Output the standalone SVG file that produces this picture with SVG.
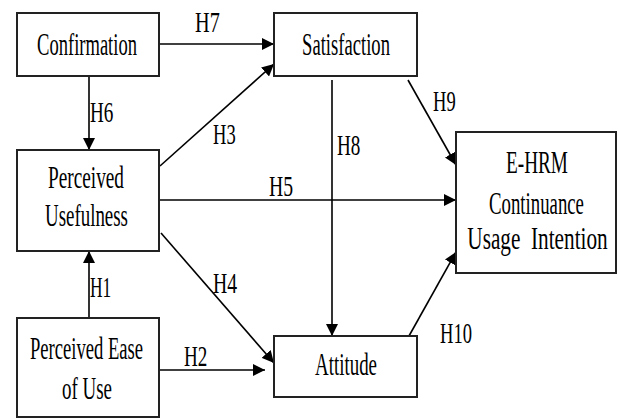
<svg xmlns="http://www.w3.org/2000/svg" width="618" height="419" viewBox="0 0 618 419">
<style>
.box{fill:#fff;stroke:#222;stroke-width:2}
.nt{font-family:"Liberation Serif","Times New Roman",serif;font-size:32px;fill:#000;text-anchor:middle}
.lb{font-family:"Liberation Serif","Times New Roman",serif;font-size:29px;fill:#000}
.cn{stroke:#000;stroke-width:1.6;fill:none;marker-end:url(#ah)}
</style>
<defs>
<marker id="ah" markerUnits="userSpaceOnUse" markerWidth="12" markerHeight="12" viewBox="0 0 12 12" refX="12" refY="6" orient="auto">
<path d="M0,0 L12,6 L0,12 Z" fill="#000"/>
</marker>
</defs>
<rect width="618" height="419" fill="#fff"/>
<g id="connectors">
<line class="cn" x1="159" y1="44" x2="274" y2="44"/>
<line class="cn" x1="89" y1="76" x2="89" y2="150"/>
<line class="cn" x1="160" y1="166" x2="274" y2="64"/>
<line class="cn" x1="159" y1="200" x2="456" y2="200"/>
<line class="cn" x1="408" y1="80" x2="456" y2="165"/>
<line class="cn" x1="332" y1="80" x2="332" y2="336"/>
<line class="cn" x1="89" y1="318" x2="89" y2="251"/>
<line class="cn" x1="161" y1="233" x2="274" y2="363"/>
<line class="cn" x1="159" y1="370" x2="265" y2="370"/>
<line class="cn" x1="409" y1="336" x2="456" y2="252"/>
<text class="lb" transform="translate(195,32) scale(0.7,1)">H7</text>
<text class="lb" transform="translate(90,122) scale(0.66,1)">H6</text>
<text class="lb" transform="translate(213,144) scale(0.64,1)">H3</text>
<text class="lb" transform="translate(269,196) scale(0.68,1)">H5</text>
<text class="lb" transform="translate(433,111) scale(0.64,1)">H9</text>
<text class="lb" transform="translate(337,155) scale(0.66,1)">H8</text>
<text class="lb" transform="translate(90,297) scale(0.6,1)">H1</text>
<text class="lb" transform="translate(213,293) scale(0.68,1)">H4</text>
<text class="lb" transform="translate(184,366) scale(0.66,1)">H2</text>
<text class="lb" transform="translate(440,343) scale(0.64,1)">H10</text>
</g>
<g id="confirmation">
<rect class="box" x="17" y="13" width="142" height="63"/>
<text class="nt" transform="translate(87,55) scale(0.58,1)">Confirmation</text>
</g>
<g id="satisfaction">
<rect class="box" x="274" y="13" width="143" height="63"/>
<text class="nt" transform="translate(346,55) scale(0.582,1)">Satisfaction</text>
</g>
<g id="perceived-usefulness">
<rect class="box" x="17" y="150" width="142" height="101"/>
<text class="nt" transform="translate(86,188) scale(0.602,1)">Perceived</text>
<text class="nt" transform="translate(86.5,226) scale(0.591,1)">Usefulness</text>
</g>
<g id="perceived-ease">
<rect class="box" x="17" y="318" width="142" height="99"/>
<text class="nt" transform="translate(86.5,359) scale(0.581,1)">Perceived Ease</text>
<text class="nt" transform="translate(87,399) scale(0.592,1)">of Use</text>
</g>
<g id="attitude">
<rect class="box" x="274" y="336" width="143" height="61"/>
<text class="nt" transform="translate(346,375) scale(0.591,1)">Attitude</text>
</g>
<g id="ehrm">
<rect class="box" x="456" y="132" width="160" height="141"/>
<text class="nt" transform="translate(537,173) scale(0.601,1)">E-HRM</text>
<text class="nt" transform="translate(536.5,214) scale(0.587,1)">Continuance</text>
<text class="nt" transform="translate(537.5,249) scale(0.664,1)" xml:space="preserve">Usage  Intention</text>
</g>
</svg>
